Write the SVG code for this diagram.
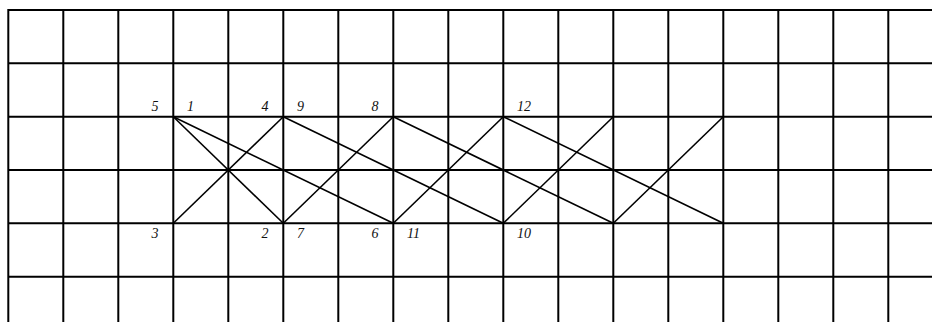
<svg xmlns="http://www.w3.org/2000/svg" width="932" height="322" viewBox="0 0 932 322">
<style>
.g{stroke:#000;stroke-width:2;fill:none}
.d{stroke:#000;stroke-width:1.6;fill:none}
.t{font-family:"Liberation Serif","Times New Roman",serif;font-style:italic;font-size:14px;fill:#111}
.e{text-anchor:end}
</style>
<rect width="932" height="322" fill="#fff"/>
<g id="grid" class="g">
<path d="M8.3 10H932M8.3 63.3H932M8.3 116.7H932M8.3 170H932M8.3 223.3H932M8.3 276.7H932"/>
<path d="M8.3 9V322M63.3 9V322M118.3 9V322M173.3 9V322M228.3 9V322M283.3 9V322M338.3 9V322M393.3 9V322M448.3 9V322M503.3 9V322M558.3 9V322M613.3 9V322M668.3 9V322M723.3 9V322M778.3 9V322M833.3 9V322M888.3 9V322"/>
</g>
<g id="connectors" class="d">
<path d="M173.3 116.7L283.3 223.3"/>
<path d="M173.3 116.7L393.3 223.3"/>
<path d="M173.3 223.3L283.3 116.7"/>
<path d="M283.3 116.7L503.3 223.3"/>
<path d="M283.3 223.3L393.3 116.7"/>
<path d="M393.3 116.7L613.3 223.3"/>
<path d="M393.3 223.3L503.3 116.7"/>
<path d="M503.3 116.7L723.3 223.3"/>
<path d="M503.3 223.3L613.3 116.7"/>
<path d="M613.3 223.3L723.3 116.7"/>
</g>
<g id="labels">
<text id="n5" class="t e" x="158.5" y="111">5</text>
<text id="n1" class="t" x="187" y="111">1</text>
<text id="n4" class="t e" x="268.5" y="111">4</text>
<text id="n9" class="t" x="297" y="111">9</text>
<text id="n8" class="t e" x="378.5" y="111">8</text>
<text id="n12" class="t" x="517" y="111">12</text>
<text id="n3" class="t e" x="158.5" y="238">3</text>
<text id="n2" class="t e" x="268.5" y="238">2</text>
<text id="n7" class="t" x="297" y="238">7</text>
<text id="n6" class="t e" x="378.5" y="238">6</text>
<text id="n11" class="t" x="407" y="238">11</text>
<text id="n10" class="t" x="517" y="238">10</text>
</g>
</svg>
